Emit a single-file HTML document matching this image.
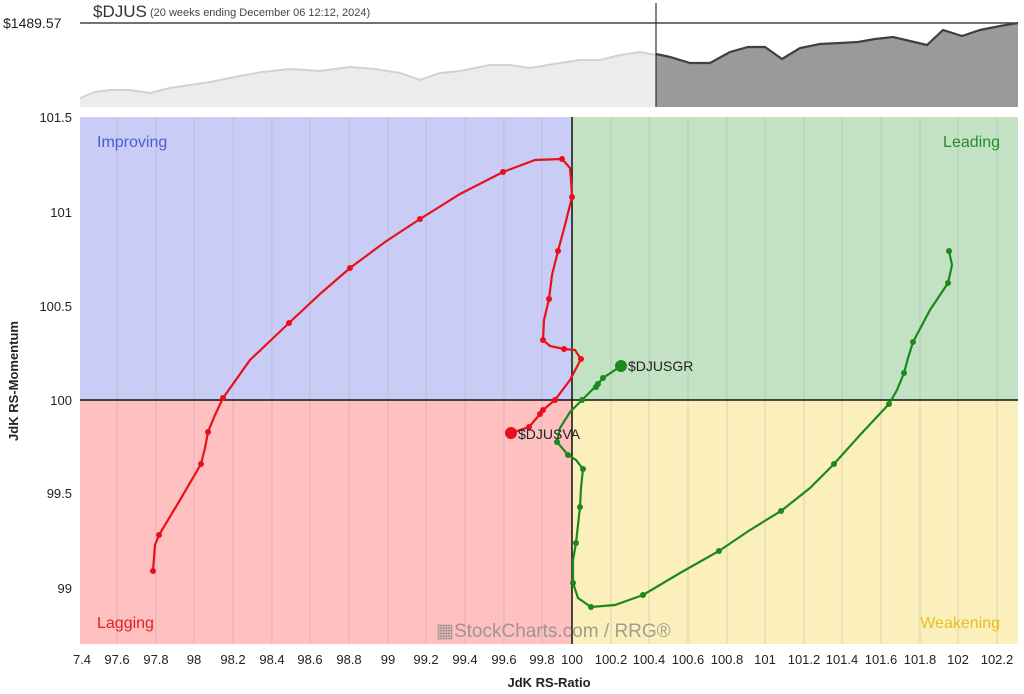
<!DOCTYPE html>
<html><head><style>
body{margin:0;background:#fff;}
svg{display:block;font-family:"Liberation Sans",sans-serif;}
</style></head><body>
<svg width="1024" height="694" xmlns="http://www.w3.org/2000/svg">
<rect width="1024" height="694" fill="#fff"/>
<!-- top panel -->
<path d="M80,98 L95,92 L110,90 L130,90 L150,93 L170,88 L190,85 L210,82 L240,76 L262,72 L290,69 L320,71 L350,67 L375,69 L400,73 L420,80 L440,73 L460,71 L490,65 L510,65 L530,68 L560,63 L580,60 L600,60 L620,55 L640,52 L656,55 L656,107 L80,107Z" fill="#ececec"/>
<path d="M80,98 L95,92 L110,90 L130,90 L150,93 L170,88 L190,85 L210,82 L240,76 L262,72 L290,69 L320,71 L350,67 L375,69 L400,73 L420,80 L440,73 L460,71 L490,65 L510,65 L530,68 L560,63 L580,60 L600,60 L620,55 L640,52 L656,55" fill="none" stroke="#d2d2d2" stroke-width="2"/>
<path d="M656,54 L670,57 L690,63 L710,63 L730,52 L748,47 L765,47 L782,59 L800,48 L820,44 L840,43 L858,42 L875,39 L893,37 L910,41 L927,45 L943,30 L962,36 L980,30 L1000,26 L1018,23 L1018,107 L656,107Z" fill="#9a9a9a"/>
<path d="M656,54 L670,57 L690,63 L710,63 L730,52 L748,47 L765,47 L782,59 L800,48 L820,44 L840,43 L858,42 L875,39 L893,37 L910,41 L927,45 L943,30 L962,36 L980,30 L1000,26 L1018,23" fill="none" stroke="#404040" stroke-width="2.2"/>
<line x1="80" y1="23" x2="1018" y2="23" stroke="#444" stroke-width="1.5"/>
<line x1="656" y1="3" x2="656" y2="107" stroke="#333" stroke-width="1.2"/>
<text x="3" y="28" font-size="14" fill="#222">$1489.57</text>
<text x="93" y="17" font-size="17" fill="#333">$DJUS</text>
<text x="150" y="16" font-size="11" fill="#444">(20 weeks ending December 06 12:12, 2024)</text>
<!-- quadrants -->
<rect x="80" y="117" width="492" height="283" fill="#c9cdf5"/>
<rect x="572" y="117" width="446" height="283" fill="#c3e2c3"/>
<rect x="80" y="400" width="492" height="244" fill="#ffc0c0"/>
<rect x="572" y="400" width="446" height="244" fill="#fbf0bc"/>
<g stroke="#a9a9b5" stroke-width="0.7" opacity="0.6">
<line x1="117" y1="117" x2="117" y2="644"/><line x1="156" y1="117" x2="156" y2="644"/><line x1="194" y1="117" x2="194" y2="644"/><line x1="233" y1="117" x2="233" y2="644"/><line x1="272" y1="117" x2="272" y2="644"/><line x1="310" y1="117" x2="310" y2="644"/><line x1="349" y1="117" x2="349" y2="644"/><line x1="388" y1="117" x2="388" y2="644"/><line x1="426" y1="117" x2="426" y2="644"/><line x1="465" y1="117" x2="465" y2="644"/><line x1="504" y1="117" x2="504" y2="644"/><line x1="542" y1="117" x2="542" y2="644"/><line x1="611" y1="117" x2="611" y2="644"/><line x1="649" y1="117" x2="649" y2="644"/><line x1="688" y1="117" x2="688" y2="644"/><line x1="727" y1="117" x2="727" y2="644"/><line x1="765" y1="117" x2="765" y2="644"/><line x1="804" y1="117" x2="804" y2="644"/><line x1="842" y1="117" x2="842" y2="644"/><line x1="881" y1="117" x2="881" y2="644"/><line x1="920" y1="117" x2="920" y2="644"/><line x1="958" y1="117" x2="958" y2="644"/><line x1="997" y1="117" x2="997" y2="644"/>
</g>
<line x1="572" y1="117" x2="572" y2="644" stroke="#111" stroke-width="1.5"/>
<line x1="80" y1="400" x2="1018" y2="400" stroke="#111" stroke-width="1.5"/>
<text x="97" y="147" font-size="16" fill="#4a5bd6">Improving</text>
<text x="1000" y="147" font-size="16" fill="#2a8a2a" text-anchor="end">Leading</text>
<text x="97" y="628" font-size="16" fill="#e02020">Lagging</text>
<text x="1000" y="628" font-size="16" fill="#e6c020" text-anchor="end">Weakening</text>
<text x="436" y="637" font-size="19" fill="#8a8a8a" opacity="0.8">▦StockCharts.com / RRG®</text>
<!-- y labels -->
<g font-size="13" fill="#222" text-anchor="end">
<text x="72" y="122">101.5</text><text x="72" y="217">101</text><text x="72" y="311">100.5</text><text x="72" y="405">100</text><text x="72" y="498">99.5</text><text x="72" y="593">99</text>
</g>
<text transform="translate(18,381) rotate(-90)" font-size="13" font-weight="bold" fill="#222" text-anchor="middle">JdK RS-Momentum</text>
<!-- x labels -->
<g font-size="13" fill="#222" text-anchor="middle">
<text x="82" y="664">7.4</text><text x="117" y="664">97.6</text><text x="156" y="664">97.8</text><text x="194" y="664">98</text><text x="233" y="664">98.2</text><text x="272" y="664">98.4</text><text x="310" y="664">98.6</text><text x="349" y="664">98.8</text><text x="388" y="664">99</text><text x="426" y="664">99.2</text><text x="465" y="664">99.4</text><text x="504" y="664">99.6</text><text x="542" y="664">99.8</text><text x="572" y="664">100</text><text x="611" y="664">100.2</text><text x="649" y="664">100.4</text><text x="688" y="664">100.6</text><text x="727" y="664">100.8</text><text x="765" y="664">101</text><text x="804" y="664">101.2</text><text x="842" y="664">101.4</text><text x="881" y="664">101.6</text><text x="920" y="664">101.8</text><text x="958" y="664">102</text><text x="997" y="664">102.2</text>
</g>
<rect x="1018" y="650" width="6" height="20" fill="#fff"/>
<text x="549" y="687" font-size="13" font-weight="bold" fill="#222" text-anchor="middle">JdK RS-Ratio</text>
<!-- red series -->
<g fill="#e8101a">
<path d="M153,571 L155,545 L159,535 L180,500 L201,464 L205,448 L208,432 L215,415 L223,398 L250,360 L289,323 L320,294 L350,268 L385,242 L420,219 L460,194 L503,172 L535,160 L562,159 L570,168 L571,180 L572,197 L565,225 L558,251 L552,275 L549,299 L544,320 L543,340 L550,346 L564,349 L575,350 L581,359 L570,380 L555,400 L543,410 L541,413 L529,427 L511,433" fill="none" stroke="#e8101a" stroke-width="2.2"/>
<circle cx="153" cy="571" r="3"/><circle cx="159" cy="535" r="3"/><circle cx="201" cy="464" r="3"/><circle cx="208" cy="432" r="3"/><circle cx="223" cy="398" r="3"/><circle cx="289" cy="323" r="3"/><circle cx="350" cy="268" r="3"/><circle cx="420" cy="219" r="3"/><circle cx="503" cy="172" r="3"/><circle cx="562" cy="159" r="3"/><circle cx="572" cy="197" r="3"/><circle cx="558" cy="251" r="3"/><circle cx="549" cy="299" r="3"/><circle cx="543" cy="340" r="3"/><circle cx="564" cy="349" r="3"/><circle cx="581" cy="359" r="3"/><circle cx="555" cy="400" r="3"/><circle cx="543" cy="410" r="3"/><circle cx="540" cy="414" r="3"/><circle cx="529" cy="427" r="3"/><circle cx="511" cy="433" r="6"/>
</g>
<!-- green series -->
<g fill="#1a8a1a">
<path d="M949,251 L952,265 L948,283 L930,310 L913,342 L908,358 L904,373 L897,390 L889,404 L860,435 L834,464 L810,488 L781,511 L750,530 L719,551 L680,573 L643,595 L615,605 L591,607 L578,598 L573,583 L573,560 L576,543 L578,525 L580,507 L581,488 L583,469 L576,460 L568,455 L557,442 L560,428 L570,412 L582,400 L590,392 L597,385 L603,378 L621,366" fill="none" stroke="#1a8a1a" stroke-width="2.2"/>
<circle cx="949" cy="251" r="3"/><circle cx="948" cy="283" r="3"/><circle cx="913" cy="342" r="3"/><circle cx="904" cy="373" r="3"/><circle cx="889" cy="404" r="3"/><circle cx="834" cy="464" r="3"/><circle cx="781" cy="511" r="3"/><circle cx="719" cy="551" r="3"/><circle cx="643" cy="595" r="3"/><circle cx="591" cy="607" r="3"/><circle cx="573" cy="583" r="3"/><circle cx="576" cy="543" r="3"/><circle cx="580" cy="507" r="3"/><circle cx="583" cy="469" r="3"/><circle cx="568" cy="455" r="3"/><circle cx="557" cy="442" r="3"/><circle cx="582" cy="400" r="3"/><circle cx="596" cy="387" r="3"/><circle cx="598" cy="384" r="3"/><circle cx="603" cy="378" r="3"/><circle cx="621" cy="366" r="6"/>
</g>
<text x="628" y="371" font-size="14" fill="#222">$DJUSGR</text>
<text x="518" y="439" font-size="14" fill="#222">$DJUSVA</text>
</svg>
</body></html>
